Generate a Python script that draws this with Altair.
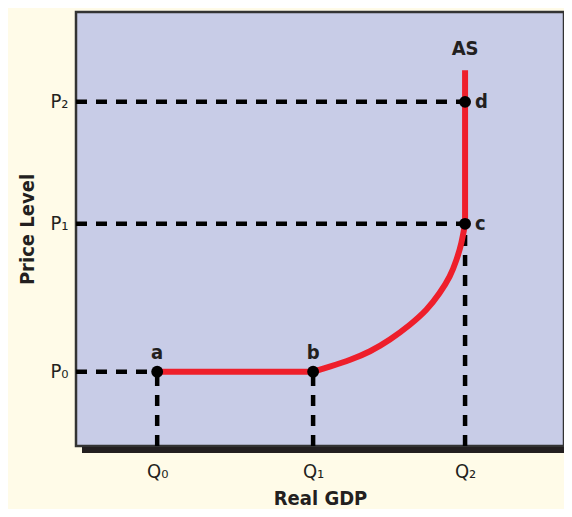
import altair as alt
import pandas as pd

# --- data ---
q_values = [16.4, 47.9, 78.6]
q_labels = ["Q\u2080", "Q\u2081", "Q\u2082"]
p_values = [17.1, 51.2, 79.3]
p_labels = ["P\u2080", "P\u2081", "P\u2082"]

# AS curve: flat segment a-b, the bend b-c, and the vertical part c-top
flat_x = [16.4, 47.9]
flat_y = [17.1, 17.1]
bend_x = [47.9, 51.3, 55.4, 59.4, 63.4, 67.5, 70.9, 73.5, 75.6, 76.9, 77.9, 78.6]
bend_y = [17.1, 18.3, 19.8, 21.7, 24.4, 27.9, 31.3, 35.2, 39.0, 42.9, 46.7, 51.2]
vert_x = [78.6, 78.6, 78.6]
vert_y = [51.2, 79.3, 86.6]

point_names = ["a", "b", "c", "d"]
point_x = [16.4, 47.9, 78.6, 78.6]
point_y = [17.1, 17.1, 51.2, 79.3]

# dashed guide segments (from axis to point)
seg_x = [0, 0, 0, 16.4, 47.9, 78.6]
seg_x2 = [16.4, 78.6, 78.6, 16.4, 47.9, 78.6]
seg_y = [17.1, 51.2, 79.3, 0, 0, 0]
seg_y2 = [17.1, 51.2, 79.3, 17.1, 17.1, 51.2]

FONT = "DejaVu Sans Condensed, DejaVu Sans, sans-serif"
INK = "#231F20"
W, H = 488, 434
XMAX = 100 * W / 495


def label_expr(vals, labs):
    expr = f"'{labs[-1]}'"
    for v, l in reversed(list(zip(vals[:-1], labs[:-1]))):
        expr = f"datum.value == {v} ? '{l}' : ({expr})"
    return expr


xscale = alt.Scale(domain=[0, XMAX], nice=False, zero=False)
yscale = alt.Scale(domain=[0, 100], nice=False, zero=False)

xaxis = alt.Axis(values=q_values, labelExpr=label_expr(q_values, q_labels),
                 ticks=False, domain=False, grid=False, labelFontSize=20,
                 labelPadding=15, labelColor=INK, labelFont=FONT,
                 title="Real GDP", titleFontSize=20, titleFontWeight="bold",
                 titleFont=FONT, titleColor=INK, titlePadding=7)
yaxis = alt.Axis(values=p_values, labelExpr=label_expr(p_values, p_labels),
                 ticks=False, domain=False, grid=False, labelFontSize=20,
                 labelPadding=8, labelColor=INK, labelFont=FONT,
                 title="Price Level", titleFontSize=20, titleFontWeight="bold",
                 titleFont=FONT, titleColor=INK, titlePadding=12)

seg_df = pd.DataFrame({"x": seg_x, "x2": seg_x2, "y": seg_y, "y2": seg_y2})
flat_df = pd.DataFrame({"x": flat_x, "y": flat_y, "i": range(len(flat_x))})
bend_df = pd.DataFrame({"x": bend_x, "y": bend_y, "i": range(len(bend_x))})
vert_df = pd.DataFrame({"x": vert_x, "y": vert_y, "i": range(len(vert_x))})
pt_df = pd.DataFrame({"name": point_names, "x": point_x, "y": point_y})

dashes = alt.Chart(seg_df).mark_rule(
    color="black", strokeWidth=4.5, strokeDash=[11, 9]
).encode(
    x=alt.X("x:Q", scale=xscale, axis=xaxis),
    x2="x2:Q",
    y=alt.Y("y:Q", scale=yscale, axis=yaxis),
    y2="y2:Q",
)

line_style = dict(color="#EE1F2B", strokeWidth=6, strokeCap="round")


def as_part(df, interp):
    return alt.Chart(df).mark_line(interpolate=interp, **line_style).encode(
        x=alt.X("x:Q", scale=xscale), y=alt.Y("y:Q", scale=yscale), order="i:Q"
    )


flat = as_part(flat_df, "linear")
bend = as_part(bend_df, "basis")
vert = alt.Chart(vert_df).mark_line(color="#EE1F2B", strokeWidth=6).encode(
    x=alt.X("x:Q", scale=xscale), y=alt.Y("y:Q", scale=yscale), order="i:Q"
)

dots = alt.Chart(pt_df).mark_point(
    filled=True, color="black", opacity=1, size=140
).encode(
    x=alt.X("x:Q", scale=xscale),
    y=alt.Y("y:Q", scale=yscale),
)

text_style = dict(font=FONT, fontSize=20, fontWeight="bold", color=INK)

lab_ab = alt.Chart(pt_df[pt_df["name"].isin(["a", "b"])]).mark_text(
    dy=-19, **text_style
).encode(x=alt.X("x:Q", scale=xscale), y=alt.Y("y:Q", scale=yscale), text="name:N")

lab_cd = alt.Chart(pt_df[pt_df["name"].isin(["c", "d"])]).mark_text(
    dx=10, align="left", **text_style
).encode(x=alt.X("x:Q", scale=xscale), y=alt.Y("y:Q", scale=yscale), text="name:N")

as_label = alt.Chart(pd.DataFrame({"x": [vert_x[-1]], "y": [vert_y[-1]], "t": ["AS"]})).mark_text(
    dy=-21, **text_style
).encode(x=alt.X("x:Q", scale=xscale), y=alt.Y("y:Q", scale=yscale), text="t:N")

shadow = alt.Chart(pd.DataFrame({"k": [0]})).mark_rule(
    color=INK, strokeWidth=6
).encode(x=alt.value(6), x2=alt.value(W), y=alt.value(H + 4))

chart = alt.layer(shadow, dashes, flat, bend, vert, dots, lab_ab, lab_cd, as_label).properties(
    width=W, height=H,
    autosize=alt.AutoSizeParams(type="none"),
    padding={"left": 68, "top": 4, "right": 0, "bottom": 63},
    background="#FFFBE8",
).configure_view(
    fill="#C8CCE7", stroke="#333333", strokeWidth=2.5
)

chart.save("out.html", embed_options={"renderer": "svg", "actions": False})
